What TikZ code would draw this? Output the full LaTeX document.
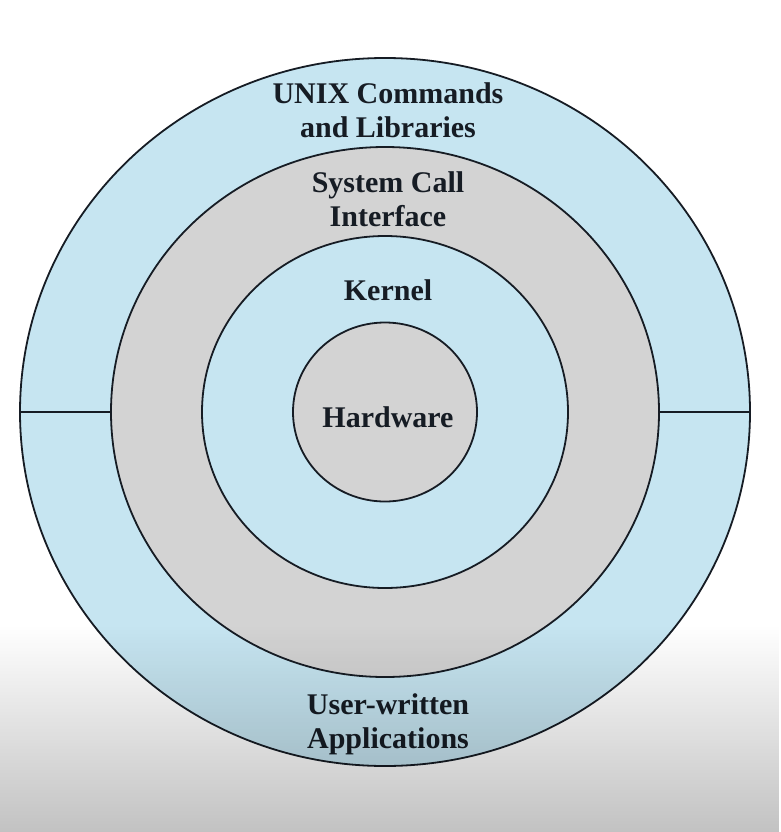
\documentclass[tikz,border=0pt]{standalone}
\usepackage{fontspec}
\setmainfont{Liberation Serif}
\usetikzlibrary{shapes.geometric,fadings}

\definecolor{ringblue}{RGB}{198,229,241}
\definecolor{ringgray}{RGB}{211,211,211}
\definecolor{inkdark}{RGB}{22,28,36}
\tikzfading[name=fadedown, top color=transparent!100, bottom color=transparent!0]

\begin{document}
\begin{tikzpicture}[x=1pt,y=-1pt,
  every node/.style={font=\fontsize{30}{34}\selectfont\bfseries,text=inkdark},
  ring/.style={ellipse,draw=inkdark,line width=1.8pt,inner sep=0pt,outer sep=0pt}]
\useasboundingbox (0,0) rectangle (780,832);
\fill[white] (0,0) rectangle (780,832);
\node[ring,fill=ringblue,minimum width=730pt,minimum height=708pt] (outer) at (385,412) {};
\node[ring,fill=ringgray,minimum width=548pt,minimum height=530pt] (sys)   at (385,412) {};
\node[ring,fill=ringblue,minimum width=366pt,minimum height=352pt] (kern)  at (385,412) {};
\node[ring,fill=ringgray,minimum width=184pt,minimum height=179pt] (hw)    at (385,412) {};
\draw[line width=1.8pt,inkdark] (outer.west) -- (sys.west);
\draw[line width=1.8pt,inkdark] (outer.east) -- (sys.east);
\node[align=center] (unix) at (388,110) {UNIX Commands\\and Libraries};
\node[align=center] (sci)  at (388,199) {System Call\\Interface};
\node[anchor=base]  (kernlbl) at (388,300) {Kernel};
\node[anchor=base]  (hwlbl)   at (388,427) {Hardware};
\node[align=center] (user) at (388,724) {User-written\\Applications};
\fill[black,opacity=0.24,path fading=fadedown] (0,625) rectangle (780,832);
\end{tikzpicture}
\end{document}
